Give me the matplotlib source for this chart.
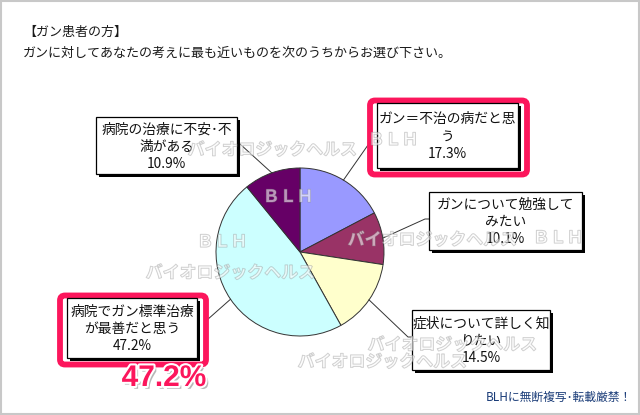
import numpy as np
import matplotlib.pyplot as plt
import matplotlib.patheffects as pe
from matplotlib.patches import Rectangle, FancyBboxPatch

plt.rcParams['font.family'] = ['Noto Sans CJK JP', 'DejaVu Sans']

title = "【ガン患者の方】"
subtitle = "ガンに対してあなたの考えに最も近いものを次のうちからお選び下さい。"
labels = ["ガン＝不治の病だと思\nう",
          "ガンについて勉強して\nみたい",
          "症状について詳しく知\nりたい",
          "病院でガン標準治療\nが最善だと思う",
          "病院の治療に不安･不\n満がある"]
values = [17.3, 10.1, 14.5, 47.2, 10.9]
colors = ["#9999ff", "#993366", "#ffffcc", "#ccffff", "#660066"]
highlight = [True, False, False, True, False]
footer = "BLHに無断複写･転載厳禁！"

W, H = 640, 415
fig = plt.figure(figsize=(6.4, 4.15), dpi=100)

# pie axes (pixel box: centre 300,252 radius 84)
cx, cy, r = 300, 252, 84
axp = fig.add_axes([(cx - r) / W, (H - cy - r) / H, 2 * r / W, 2 * r / H])
wedges, _ = axp.pie(values, colors=colors, startangle=90, counterclock=False,
                    wedgeprops=dict(edgecolor="#333333", linewidth=0.7))
axp.set_xlim(-1, 1)
axp.set_ylim(-1, 1)
axp.axis("off")

# overlay in pixel coords
ax = fig.add_axes([0, 0, 1, 1], zorder=5)
ax.set_xlim(0, W)
ax.set_ylim(H, 0)
ax.axis("off")
ax.patch.set_alpha(0)

ax.add_patch(Rectangle((1, 1), W - 2, H - 2, fill=False, edgecolor="#c8c8c8", lw=1.5))

ax.text(23, 32, title, fontsize=9.4, color="#1a1a1a", va="center")
ax.text(23, 53, subtitle, fontsize=9.4, color="#1a1a1a", va="center")

# label boxes (x0, y0, x1, y1) and leader bend points, in pixels
boxes = [(377, 103, 518, 168), (429, 192, 582, 250), (412, 310, 550, 370),
         (67, 298, 197, 358), (96, 117, 237, 174)]
bends = [[(368, 145), (377, 145)], [(425, 219), (429, 219)],
         [(408, 337), (412, 337)], [(207, 320), (197, 322)],
         [(240, 144), (237, 144)]]

to_pix = axp.transData + ax.transData.inverted()
for w, lab, v, hl, (x0, y0, x1, y1), bp in zip(wedges, labels, values, highlight, boxes, bends):
    mid = np.deg2rad((w.theta1 + w.theta2) / 2)
    px, py = to_pix.transform((np.cos(mid), np.sin(mid)))
    xs = [px] + [p[0] for p in bp]
    ys = [py] + [p[1] for p in bp]
    ax.plot(xs, ys, color="#333333", lw=0.7, zorder=1)
    if hl:
        ax.add_patch(FancyBboxPatch((x0 - 7, y0 - 2.5), (x1 - x0) + 16, (y1 - y0) + 9,
                                    boxstyle="round,pad=0,rounding_size=5",
                                    facecolor="white", edgecolor="#fc165c", lw=4.2, zorder=2))
    ax.add_patch(Rectangle((x0 + 3, y0 + 3), x1 - x0, y1 - y0, facecolor="black",
                           edgecolor="none", zorder=3))
    ax.add_patch(Rectangle((x0, y0), x1 - x0, y1 - y0, facecolor="white",
                           edgecolor="black", lw=0.9, zorder=4))
    ax.text((x0 + x1) / 2, (y0 + y1) / 2 + 1, f"{lab}\n{v}%", fontsize=9.9,
            ha="center", va="center", multialignment="center", linespacing=1.3,
            color="#111111", zorder=5)

# big highlighted value
ax.text(164, 378, f"{values[3]}%", fontsize=21.5, fontweight="bold",
        family="Liberation Sans", color="#fc165c", ha="center", va="center", zorder=6,
        path_effects=[pe.withSimplePatchShadow(offset=(2, -2), shadow_rgbFace="#888888", alpha=0.6),
                      pe.Stroke(linewidth=3, foreground="white"), pe.Normal()])

# watermarks (outlined, semi-transparent)
wm = [("バイオロジックヘルス", 272, 150), ("ＢＬＨ", 393, 140), ("ＢＬＨ", 288, 197),
      ("ＢＬＨ", 222, 242), ("バイオロジックヘルス", 230, 273), ("バイオロジックヘルス", 432, 240),
      ("ＢＬＨ", 558, 238), ("バイオロジックヘルス", 452, 345), ("バイオロジックヘルス", 382, 362)]
for t, x, y in wm:
    ax.text(x, y, t, fontsize=12.2, fontweight="bold", color=(1, 1, 1, 0.35),
            ha="center", va="center", zorder=7,
            path_effects=[pe.Stroke(linewidth=0.8, foreground=(0.55, 0.55, 0.55, 0.45)),
                          pe.Normal()])

ax.text(632, 397, footer, fontsize=8.5, color="#1a3c78", ha="right", va="center")

fig.savefig("out.png", dpi=100)
